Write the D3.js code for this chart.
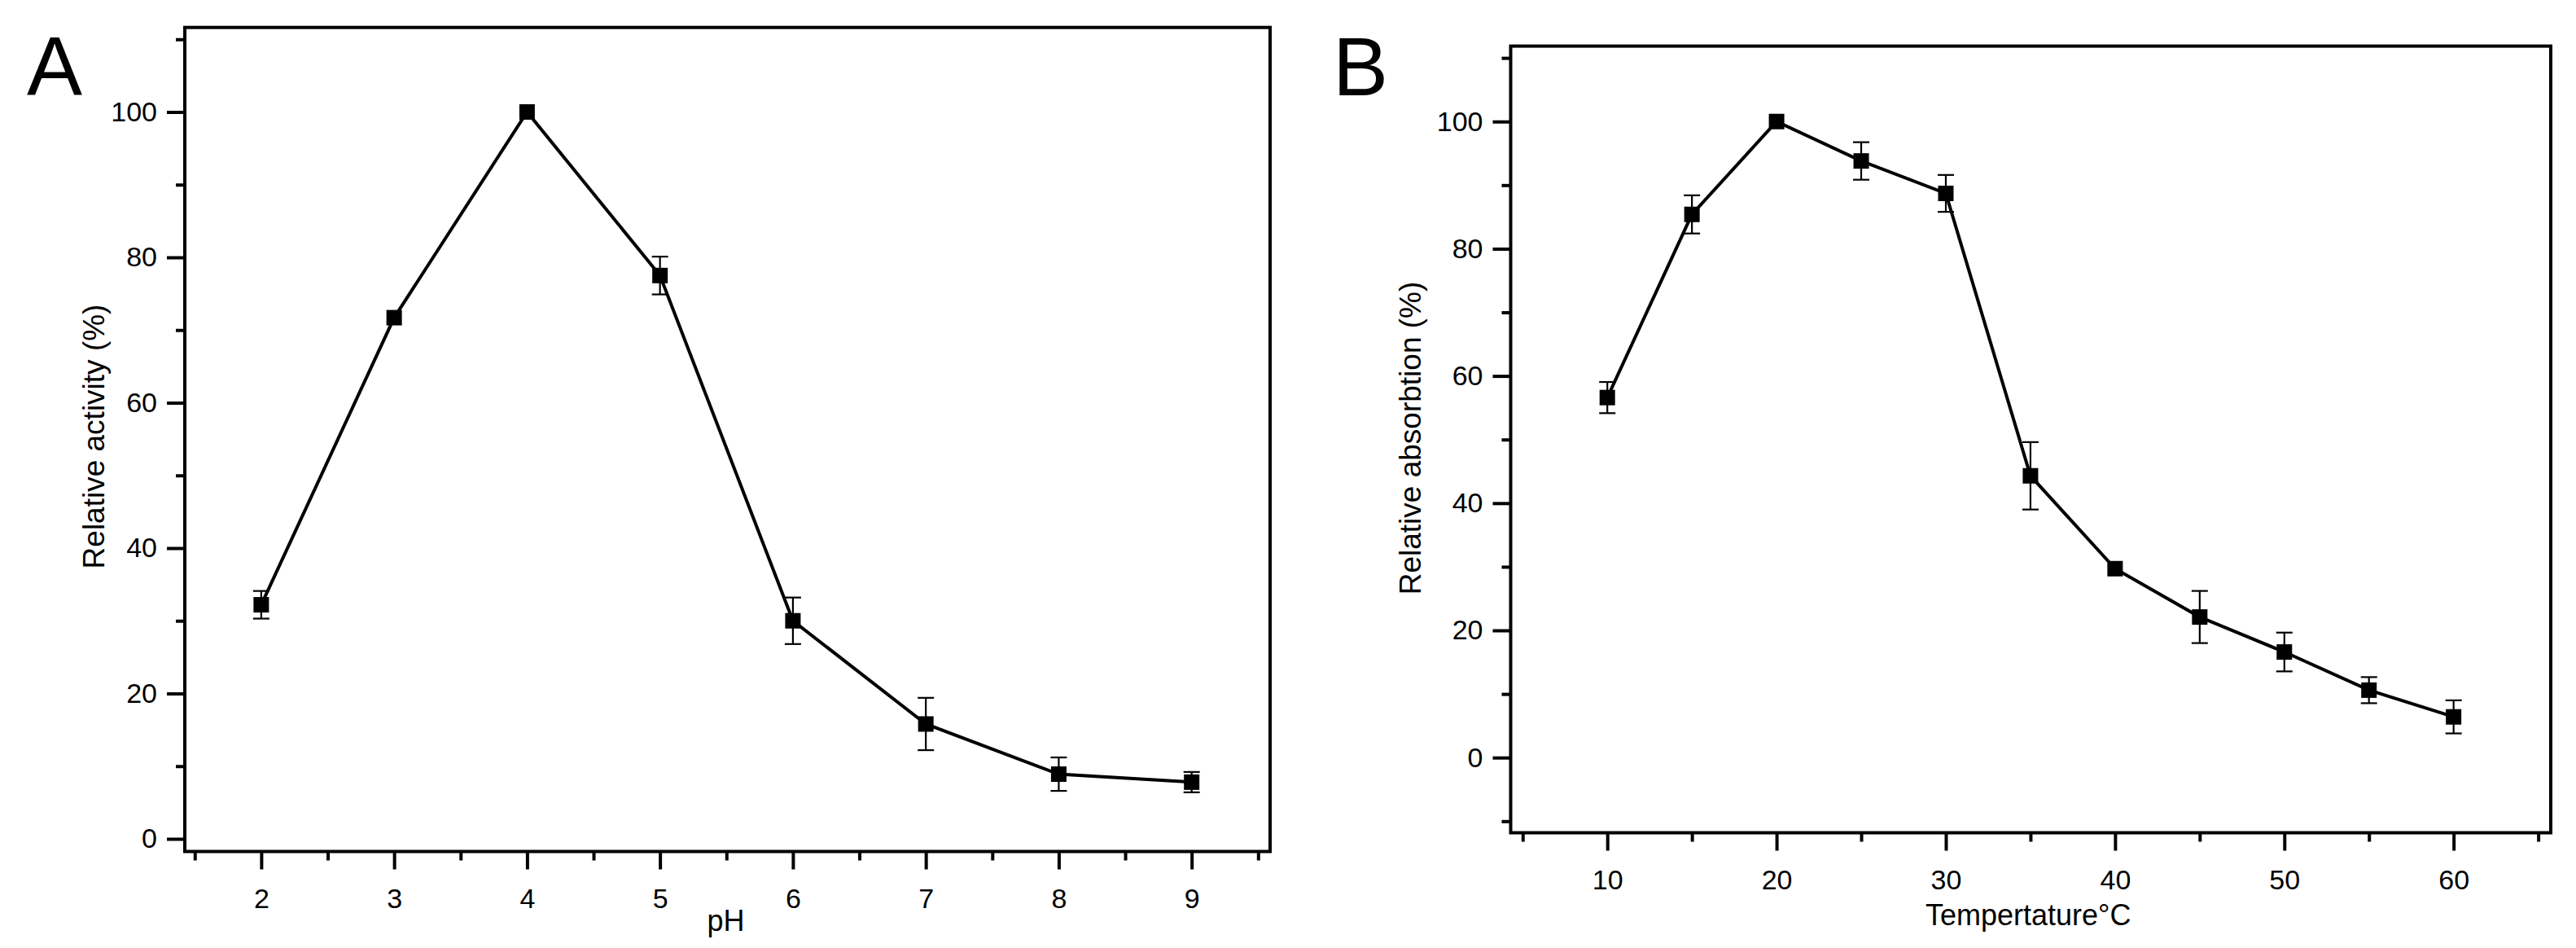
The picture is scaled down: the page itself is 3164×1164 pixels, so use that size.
<!DOCTYPE html>
<html>
<head>
<meta charset="utf-8">
<script src="https://cdn.jsdelivr.net/npm/d3@7"></script>
<style>
    body { margin: 0; background: white; }
    text { font-family: "Liberation Sans", Arial, sans-serif; fill: black; }
</style>
</head>
<body>
<svg id="chart" width="3164" height="1164"></svg>
<script>

// panel A data: pH vs relative activity
let phValues = [2, 3, 4, 5, 6, 7, 8, 9]
let activity = [32.2, 71.7, 100, 77.5, 30.0, 15.8, 8.9, 7.8]
let activityErr = [1.9, 0, 0, 2.6, 3.2, 3.6, 2.3, 1.4]
let phTicks = [2, 3, 4, 5, 6, 7, 8, 9]
let phMinorTicks = [1.5, 2.5, 3.5, 4.5, 5.5, 6.5, 7.5, 8.5, 9.5]
let activityTicks = [0, 20, 40, 60, 80, 100]
let activityMinorTicks = [10, 30, 50, 70, 90, 110]

// panel B data: temperature vs relative absorption
let tempValues = [10, 15, 20, 25, 30, 35, 40, 45, 50, 55, 60]
let absorption = [56.6, 85.4, 100, 93.8, 88.7, 44.3, 29.7, 22.1, 16.6, 10.6, 6.4]
let absorptionErr = [2.45, 3.0, 0, 2.95, 2.9, 5.3, 0, 4.1, 3.05, 2.05, 2.6]
let tempTicks = [10, 20, 30, 40, 50, 60]
let tempMinorTicks = [5, 15, 25, 35, 45, 55, 65]
let absorptionTicks = [0, 20, 40, 60, 80, 100]
let absorptionMinorTicks = [-10, 10, 30, 50, 70, 90, 110]

let svg = d3.select("#chart")

function drawPanel(p){

    let xscale = d3.scaleLinear().domain(p.xDomain).range([p.left, p.right])
    let yscale = d3.scaleLinear().domain(p.yDomain).range([p.bottom, p.top])

    let g = svg.append("g")

    // minor ticks first, no labels
    g.append("g")
        .attr("transform", "translate(0," + p.bottom + ")")
        .call(d3.axisBottom(xscale).tickValues(p.xMinor).tickSize(11).tickSizeOuter(0).tickFormat(""))
    g.append("g")
        .attr("transform", "translate(" + p.left + ",0)")
        .call(d3.axisLeft(yscale).tickValues(p.yMinor).tickSize(11).tickSizeOuter(0).tickFormat(""))

    // major ticks with labels
    g.append("g")
        .attr("transform", "translate(0," + p.bottom + ")")
        .call(d3.axisBottom(xscale).tickValues(p.xTicks).tickSize(22).tickPadding(23).tickSizeOuter(0))
    g.append("g")
        .attr("transform", "translate(" + p.left + ",0)")
        .call(d3.axisLeft(yscale).tickValues(p.yTicks).tickSize(22).tickPadding(12).tickSizeOuter(0))

    g.selectAll(".domain").remove()
    g.selectAll(".tick line").attr("stroke", "black").attr("stroke-width", 4)
    g.selectAll(".tick text")
        .style("font-family", "'Liberation Sans', Arial, sans-serif")
        .style("font-size", "34px")
        .attr("fill", "black")

    // frame around the plot
    g.append("rect")
        .attr("x", p.left)
        .attr("y", p.top)
        .attr("width", p.right - p.left)
        .attr("height", p.bottom - p.top)
        .attr("fill", "none")
        .attr("stroke", "black")
        .attr("stroke-width", 4)

    let points = p.x.map((d, i) => [d, p.y[i], p.err[i]])

    let lineFunction = d3.line()
        .x(d => xscale(d[0]))
        .y(d => yscale(d[1]))

    g.append("path")
        .datum(points)
        .attr("d", lineFunction)
        .attr("fill", "none")
        .attr("stroke", "black")
        .attr("stroke-width", 4)
        .attr("stroke-linejoin", "miter")

    // error bars
    let bars = g.append("g").selectAll("g")
        .data(points.filter(d => d[2] > 0))
        .enter()
        .append("g")
        .attr("stroke", "black")
        .attr("stroke-width", 2.2)

    bars.append("line")
        .attr("x1", d => xscale(d[0])).attr("x2", d => xscale(d[0]))
        .attr("y1", d => yscale(d[1] - d[2])).attr("y2", d => yscale(d[1] + d[2]))
    bars.append("line")
        .attr("x1", d => xscale(d[0]) - 10).attr("x2", d => xscale(d[0]) + 10)
        .attr("y1", d => yscale(d[1] + d[2])).attr("y2", d => yscale(d[1] + d[2]))
    bars.append("line")
        .attr("x1", d => xscale(d[0]) - 10).attr("x2", d => xscale(d[0]) + 10)
        .attr("y1", d => yscale(d[1] - d[2])).attr("y2", d => yscale(d[1] - d[2]))

    // square markers
    g.append("g").selectAll("rect")
        .data(points)
        .enter()
        .append("rect")
        .attr("x", d => xscale(d[0]) - 9.5)
        .attr("y", d => yscale(d[1]) - 9.5)
        .attr("width", 19)
        .attr("height", 19)
        .attr("fill", "black")

    // axis titles
    g.append("text")
        .attr("x", (p.left + p.right) / 2 + p.xTitleShift)
        .attr("y", p.xTitleY)
        .attr("text-anchor", "middle")
        .style("font-size", "36px")
        .text(p.xTitle)

    g.append("text")
        .attr("transform", "translate(" + p.yTitleX + "," + p.yTitleCenter + ") rotate(-90)")
        .attr("text-anchor", "middle")
        .style("font-size", "37px")
        .text(p.yTitle)

    // panel letter
    g.append("text")
        .attr("x", p.letterX)
        .attr("y", 117)
        .style("font-size", "102px")
        .text(p.letter)
}

drawPanel({
    x: phValues, y: activity, err: activityErr,
    xTicks: phTicks, xMinor: phMinorTicks, yTicks: activityTicks, yMinor: activityMinorTicks,
    xDomain: [1.425, 9.59], yDomain: [-1.74, 111.63],
    left: 227, right: 1560, top: 33.7, bottom: 1045.5,
    xTitle: "pH", xTitleY: 1143, xTitleShift: -2,
    yTitle: "Relative activity (%)", yTitleX: 128, yTitleCenter: 536,
    letter: "A", letterX: 33
})

drawPanel({
    x: tempValues, y: absorption, err: absorptionErr,
    xTicks: tempTicks, xMinor: tempMinorTicks, yTicks: absorptionTicks, yMinor: absorptionMinorTicks,
    xDomain: [4.29, 65.74], yDomain: [-11.82, 111.86],
    left: 1855.5, right: 3133, top: 56.6, bottom: 1022.5,
    xTitle: "Tempertature°C", xTitleY: 1136, xTitleShift: -3,
    yTitle: "Relative absorbtion (%)", yTitleX: 1745, yTitleCenter: 538,
    letter: "B", letterX: 1637
})

</script>
</body>
</html>
